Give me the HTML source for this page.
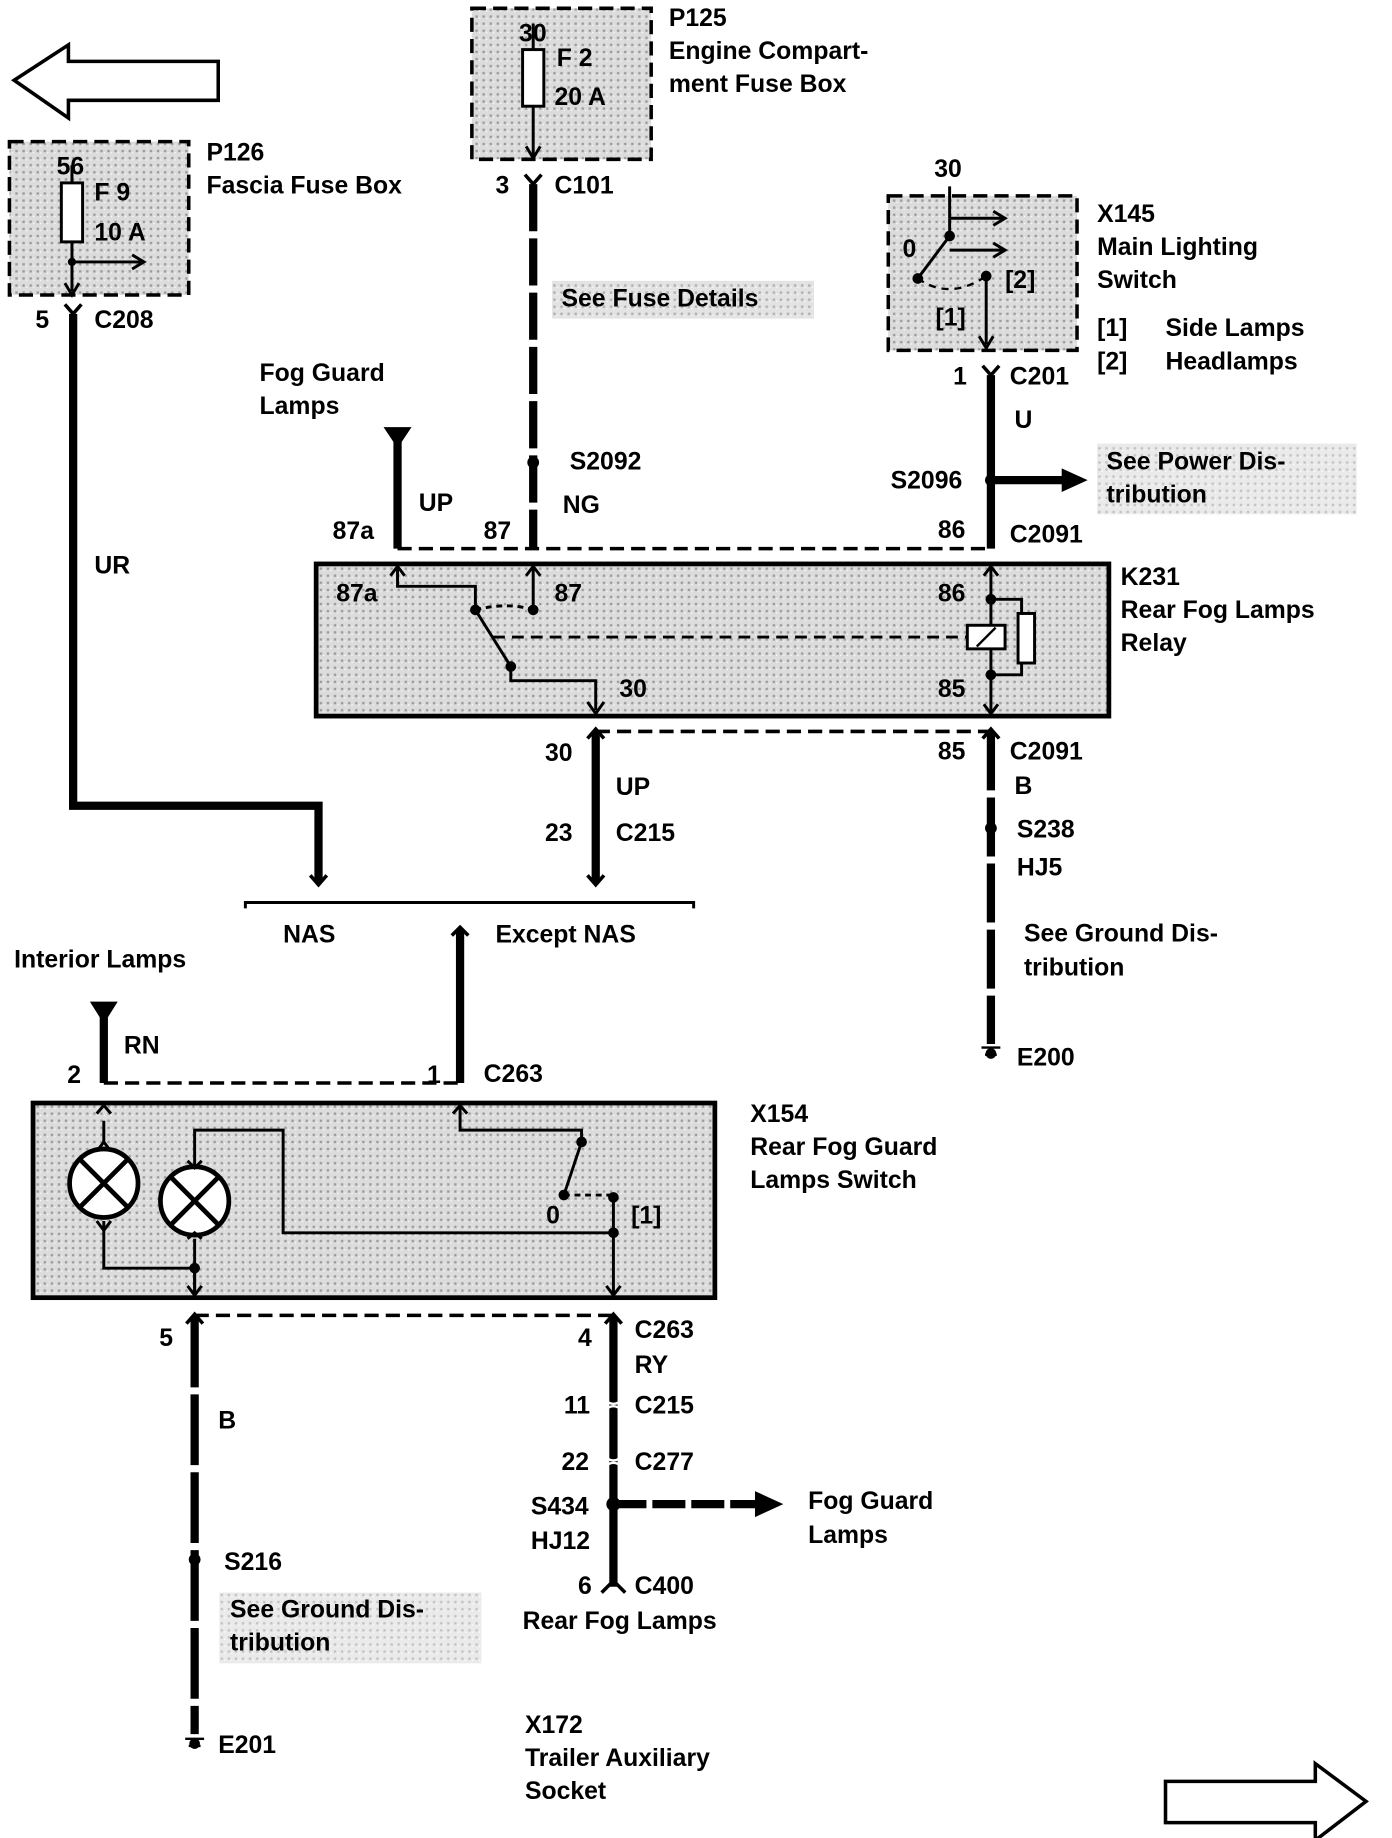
<!DOCTYPE html>
<html><head><meta charset="utf-8"><style>
html,body{margin:0;padding:0;background:#fff}
svg{display:block}
text{font-family:"Liberation Sans",sans-serif;font-weight:bold;font-size:21px;fill:#000}
</style></head><body>
<svg width="1392" height="1838" viewBox="0 0 1180 1558" xmlns="http://www.w3.org/2000/svg">
<defs>
<pattern id="st" width="6" height="6" patternUnits="userSpaceOnUse">
<rect width="6" height="6" fill="#dcdcdc"/><rect x="1" y="1" width="2" height="2" fill="#9a9a9a"/><rect x="4" y="3" width="1" height="1" fill="#fff"/>
</pattern>
</defs>
<g fill="none" stroke="#000">
<!-- left arrow -->
<path d="M12,68 L58,38 L58,52 L185,52 L185,85 L58,85 L58,100 Z" stroke-width="3"/>
<!-- right arrow -->
<path d="M1158,1527 L1115,1495 L1115,1510 L988,1510 L988,1545 L1115,1545 L1115,1560 Z" stroke-width="3"/>

<!-- P125 -->
<rect x="400" y="7" width="152" height="128" fill="url(#st)" stroke-width="3" stroke-dasharray="12 6"/>
<rect x="443" y="42" width="18" height="48" fill="#fff" stroke-width="2.5"/>
<path d="M452,20 V42 M452,90 V132 M446,124 L452,134 L458,124" stroke-width="2.5"/>
<!-- P126 -->
<rect x="8" y="120" width="152" height="130" fill="url(#st)" stroke-width="3" stroke-dasharray="12 6"/>
<rect x="52" y="155" width="18" height="50" fill="#fff" stroke-width="2.5"/>
<path d="M61,140 V155 M61,205 V247 M55,240 L61,250 L67,240 M61,222 H120 M112,216 L122,222 L112,228" stroke-width="2.5"/>
<circle cx="61" cy="222" r="3" fill="#000"/>

<!-- C208 / UR wire -->
<path d="M55,258 L62,266 L69,258" stroke-width="3"/>
<path d="M62,266 V683 H270 V748" stroke-width="7"/>
<path d="M263,742 L270,750 L277,742" stroke-width="3"/>

<!-- C101 wire -->
<path d="M445,148 L452,156 L459,148" stroke-width="3"/>
<path d="M452,156 V465" stroke-width="7" stroke-dasharray="40 6"/>
<circle cx="452" cy="392" r="5" fill="#000" stroke="none"/>

<!-- Fog guard lamps 87a -->
<path d="M327,363 L347,363 L337,378 Z" fill="#000" stroke-width="2"/>
<path d="M337,370 V465" stroke-width="7"/>

<!-- dashed line top relay -->
<path d="M337,465 H840" stroke-width="3" stroke-dasharray="12 6"/>

<!-- X145 -->
<rect x="753" y="166" width="160" height="131" fill="url(#st)" stroke-width="3" stroke-dasharray="12 6"/>
<path d="M805,158 V185 M805,185 H850 M842,179 L852,185 L842,191 M805,212 H850 M842,206 L852,212 L842,218 M805,200 L778,236 M836,234 V292 M830,285 L836,295 L842,285" stroke-width="2.5"/>
<path d="M778,236 Q805,255 836,234" stroke-width="2" stroke-dasharray="6 5"/>
<circle cx="805" cy="200" r="4" fill="#000"/><circle cx="778" cy="236" r="4" fill="#000"/><circle cx="836" cy="234" r="4" fill="#000"/>
<path d="M805,185 V200" stroke-width="2.5"/>
<!-- C201 wire -->
<path d="M833,310 L840,318 L847,310" stroke-width="3"/>
<path d="M840,318 V465" stroke-width="7"/>
<circle cx="840" cy="407" r="5" fill="#000" stroke="none"/>
<path d="M840,407 H905" stroke-width="7"/>
<path d="M900,397 L922,407 L900,417 Z" fill="#000" stroke="none"/>

<!-- K231 -->
<rect x="268" y="478" width="672" height="129" fill="url(#st)" stroke-width="4"/>
<path d="M337,480 V497 H403 V517 L433,565 V577 H505 V602 M498,595 L505,605 L512,595 M331,488 L337,480 L343,488 M452,480 V517 M446,488 L452,480 L458,488" stroke-width="2.5"/>
<path d="M403,517 Q430,510 452,517" stroke-width="2.5" stroke-dasharray="5 4"/>
<circle cx="403" cy="517" r="4" fill="#000"/><circle cx="452" cy="517" r="4" fill="#000"/><circle cx="433" cy="565" r="4" fill="#000"/>
<path d="M418,540 H820" stroke-width="2.5" stroke-dasharray="10 6"/>
<path d="M840,480 V605 M834,488 L840,480 L846,488 M834,597 L840,605 L846,597 M840,508 H866 V520 M840,572 H866 V560" stroke-width="2.5"/>
<rect x="820" y="530" width="32" height="20" fill="#fff" stroke-width="2.5"/>
<path d="M828,548 L844,532" stroke-width="2"/>
<rect x="863" y="520" width="14" height="42" fill="#fff" stroke-width="2.5"/>
<circle cx="840" cy="508" r="4" fill="#000"/><circle cx="840" cy="572" r="4" fill="#000"/>

<!-- below relay -->
<path d="M505,620 H840" stroke-width="3" stroke-dasharray="12 6"/>
<path d="M498,626 L505,618 L512,626" stroke-width="3"/>
<path d="M505,620 V748" stroke-width="7"/>
<path d="M498,742 L505,750 L512,742" stroke-width="3"/>
<path d="M833,626 L840,618 L847,626" stroke-width="3"/>
<path d="M840,620 V885" stroke-width="7" stroke-dasharray="50 6"/>
<circle cx="840" cy="702" r="5" fill="#000" stroke="none"/>
<path d="M832,888 H848 M835,894 H845" stroke-width="2"/>
<circle cx="840" cy="893" r="4" fill="#000"/>

<!-- NAS bracket -->
<path d="M208,770 V765 H588 V770" stroke-width="2.5"/>
<path d="M383,793 L390,786 L397,793" stroke-width="3"/>
<path d="M390,788 V918" stroke-width="7"/>

<!-- Interior lamps -->
<path d="M78,850 L98,850 L88,866 Z" fill="#000" stroke-width="2"/>
<path d="M88,856 V918" stroke-width="7"/>
<path d="M88,918 H390" stroke-width="3" stroke-dasharray="12 6"/>

<!-- X154 -->
<rect x="28" y="935" width="578" height="165" fill="url(#st)" stroke-width="4"/>
<path d="M88,950 V970 M82,944 L88,937 L94,944 M82,976 L88,968 L94,976 M88,1035 V1075 H165 V1098 M82,1035 L88,1043 L94,1035" stroke-width="2.5"/>
<circle cx="88" cy="1003" r="29" fill="#fff" stroke-width="4"/>
<path d="M68,983 L108,1023 M108,983 L68,1023" stroke-width="4"/>
<circle cx="165" cy="1018" r="29" fill="#fff" stroke-width="4"/>
<path d="M145,998 L185,1038 M185,998 L145,1038" stroke-width="4"/>
<path d="M165,988 V958 H240 V1045 H520 M159,984 L165,990 L171,984 M159,1050 L165,1045 L171,1050 M165,1050 V1098 M159,1090 L165,1098 L171,1090" stroke-width="2.5"/>
<path d="M390,938 V958 H493 V968 L478,1013 M384,944 L390,937 L396,944 M520,1015 V1098 M514,1090 L520,1098 L526,1090" stroke-width="2.5"/>
<path d="M478,1013 H520" stroke-width="2.5" stroke-dasharray="5 4"/>
<circle cx="493" cy="968" r="4" fill="#000"/><circle cx="478" cy="1013" r="4" fill="#000"/><circle cx="520" cy="1015" r="4" fill="#000"/><circle cx="520" cy="1045" r="4" fill="#000"/><circle cx="165" cy="1075" r="4" fill="#000"/>

<!-- below X154 -->
<path d="M165,1115 H520" stroke-width="3" stroke-dasharray="12 6"/>
<path d="M158,1122 L165,1114 L172,1122" stroke-width="3"/>
<path d="M165,1116 V1470" stroke-width="7" stroke-dasharray="60 6"/>
<circle cx="165" cy="1322" r="5" fill="#000" stroke="none"/>
<path d="M157,1474 H173 M160,1480 H170" stroke-width="2"/>
<circle cx="165" cy="1478" r="4" fill="#000"/>
<path d="M513,1122 L520,1114 L527,1122" stroke-width="3"/>
<path d="M520,1116 V1345" stroke-width="7"/>
<path d="M512,1186 Q520,1194 528,1186 M512,1196 Q520,1188 528,1196 M512,1234 Q520,1242 528,1234 M512,1244 Q520,1236 528,1244" stroke="#fff" stroke-width="2"/>
<circle cx="520" cy="1275" r="6" fill="#000" stroke="none"/>
<path d="M520,1275 H645" stroke-width="7" stroke-dasharray="28 5"/>
<path d="M640,1264 L664,1275 L640,1286 Z" fill="#000" stroke="none"/>
<path d="M510,1350 L520,1340 L530,1350" stroke-width="3"/>
</g>

<!-- grey label backgrounds -->
<rect x="468" y="238" width="222" height="32" fill="url(#st)" opacity="0.8"/>
<rect x="930" y="376" width="220" height="60" fill="url(#st)" opacity="0.6"/>
<rect x="186" y="1350" width="222" height="60" fill="url(#st)" opacity="0.6"/>

<text x="440" y="35">30</text><text x="472" y="56">F 2</text><text x="470" y="89">20 A</text>
<text x="567" y="22">P125</text><text x="567" y="50">Engine Compart-</text><text x="567" y="78">ment Fuse Box</text>
<text x="48" y="148">56</text><text x="80" y="170">F 9</text><text x="80" y="204">10 A</text>
<text x="175" y="136">P126</text><text x="175" y="164">Fascia Fuse Box</text>
<text x="30" y="278">5</text><text x="80" y="278">C208</text>
<text x="420" y="164">3</text><text x="470" y="164">C101</text>
<text x="476" y="260">See Fuse Details</text>
<text x="220" y="323">Fog Guard</text><text x="220" y="351">Lamps</text>
<text x="80" y="486">UR</text>
<text x="483" y="398">S2092</text><text x="477" y="435">NG</text><text x="355" y="433">UP</text>
<text x="282" y="457">87a</text><text x="410" y="457">87</text>
<text x="792" y="150">30</text><text x="765" y="218">0</text><text x="852" y="244">[2]</text><text x="793" y="276">[1]</text>
<text x="930" y="188">X145</text><text x="930" y="216">Main Lighting</text><text x="930" y="244">Switch</text>
<text x="930" y="285">[1]</text><text x="988" y="285">Side Lamps</text><text x="930" y="313">[2]</text><text x="988" y="313">Headlamps</text>
<text x="808" y="326">1</text><text x="856" y="326">C201</text><text x="860" y="363">U</text>
<text x="755" y="414">S2096</text><text x="938" y="398">See Power Dis-</text><text x="938" y="426">tribution</text>
<text x="795" y="456">86</text><text x="856" y="460">C2091</text>
<text x="285" y="510">87a</text><text x="470" y="510">87</text><text x="795" y="510">86</text><text x="525" y="591">30</text><text x="795" y="591">85</text>
<text x="950" y="496">K231</text><text x="950" y="524">Rear Fog Lamps</text><text x="950" y="552">Relay</text>
<text x="462" y="645">30</text><text x="522" y="674">UP</text><text x="462" y="713">23</text><text x="522" y="713">C215</text>
<text x="795" y="644">85</text><text x="856" y="644">C2091</text><text x="860" y="673">B</text>
<text x="862" y="710">S238</text><text x="862" y="742">HJ5</text>
<text x="868" y="798">See Ground Dis-</text><text x="868" y="827">tribution</text><text x="862" y="903">E200</text>
<text x="240" y="799">NAS</text><text x="420" y="799">Except NAS</text>
<text x="12" y="820">Interior Lamps</text>
<text x="105" y="893">RN</text><text x="57" y="918">2</text><text x="362" y="918">1</text><text x="410" y="917">C263</text>
<text x="636" y="951">X154</text><text x="636" y="979">Rear Fog Guard</text><text x="636" y="1007">Lamps Switch</text>
<text x="463" y="1037">0</text><text x="535" y="1037">[1]</text>
<text x="135" y="1141">5</text><text x="490" y="1141">4</text><text x="538" y="1134">C263</text><text x="538" y="1164">RY</text>
<text x="185" y="1211">B</text>
<text x="478" y="1198">11</text><text x="538" y="1198">C215</text>
<text x="476" y="1246">22</text><text x="538" y="1246">C277</text>
<text x="450" y="1284">S434</text><text x="450" y="1313">HJ12</text>
<text x="685" y="1279">Fog Guard</text><text x="685" y="1308">Lamps</text>
<text x="490" y="1351">6</text><text x="538" y="1351">C400</text>
<text x="443" y="1381">Rear Fog Lamps</text>
<text x="190" y="1331">S216</text><text x="195" y="1371">See Ground Dis-</text><text x="195" y="1399">tribution</text>
<text x="185" y="1486">E201</text>
<text x="445" y="1469">X172</text><text x="445" y="1497">Trailer Auxiliary</text><text x="445" y="1525">Socket</text>
</svg>
</body></html>
